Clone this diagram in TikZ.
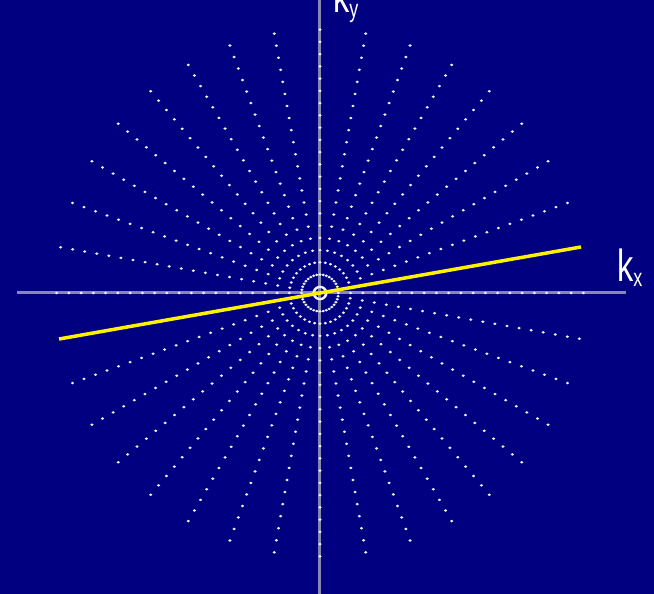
\documentclass[tikz,border=0pt]{standalone}
\usepackage{fontspec}
\setmainfont{Liberation Sans}
\usepackage{graphicx}
\usepackage{tikz}
\usetikzlibrary{positioning}
\definecolor{bgnavy}{RGB}{0,0,128}
\definecolor{axisgray}{RGB}{135,135,180}
\definecolor{dotwhite}{RGB}{240,240,250}
\tikzset{
  axisline/.style={draw=axisgray,line width=3pt},
  spoke/.style={draw=yellow,line width=3.5pt},
  klbl/.style={text=white,inner sep=0pt,anchor=base west,font=\fontsize{45}{45}\selectfont},
}
\newcommand{\ksub}[1]{\scalebox{0.72}[1]{k\raisebox{-4.5pt}{\fontsize{25}{25}\selectfont #1}}}

\begin{document}
\begin{tikzpicture}[x=1pt,y=1pt]
 \useasboundingbox (-320,-301) rectangle (334,293);
 \clip (-320,-301) rectangle (334,293);
 \fill[bgnavy] (-320,-301) rectangle (334,293);
 \coordinate (xl) at (-303,0); \coordinate (xr) at (306,0);
 \coordinate (yb) at (0,-301); \coordinate (yt) at (0,293);
 \draw[axisline] (xl) -- (xr);
 \draw[axisline] (yb) -- (yt);
 \foreach \a in {0,10,...,350}{
   \foreach \k in {1,...,22}{\fill[dotwhite] (\a:{(\k-0.5)*12.25}) ellipse (1.7 and 1.35);}}
 \coordinate (s1) at (190:265); \coordinate (s2) at (10:265);
 \draw[spoke] (s1) -- (s2);
 \node[klbl] (kx) at (297,11.3) {\ksub{x}};
 \node[klbl] (ky) at (13,280) {\ksub{y}};
\end{tikzpicture}
\end{document}
